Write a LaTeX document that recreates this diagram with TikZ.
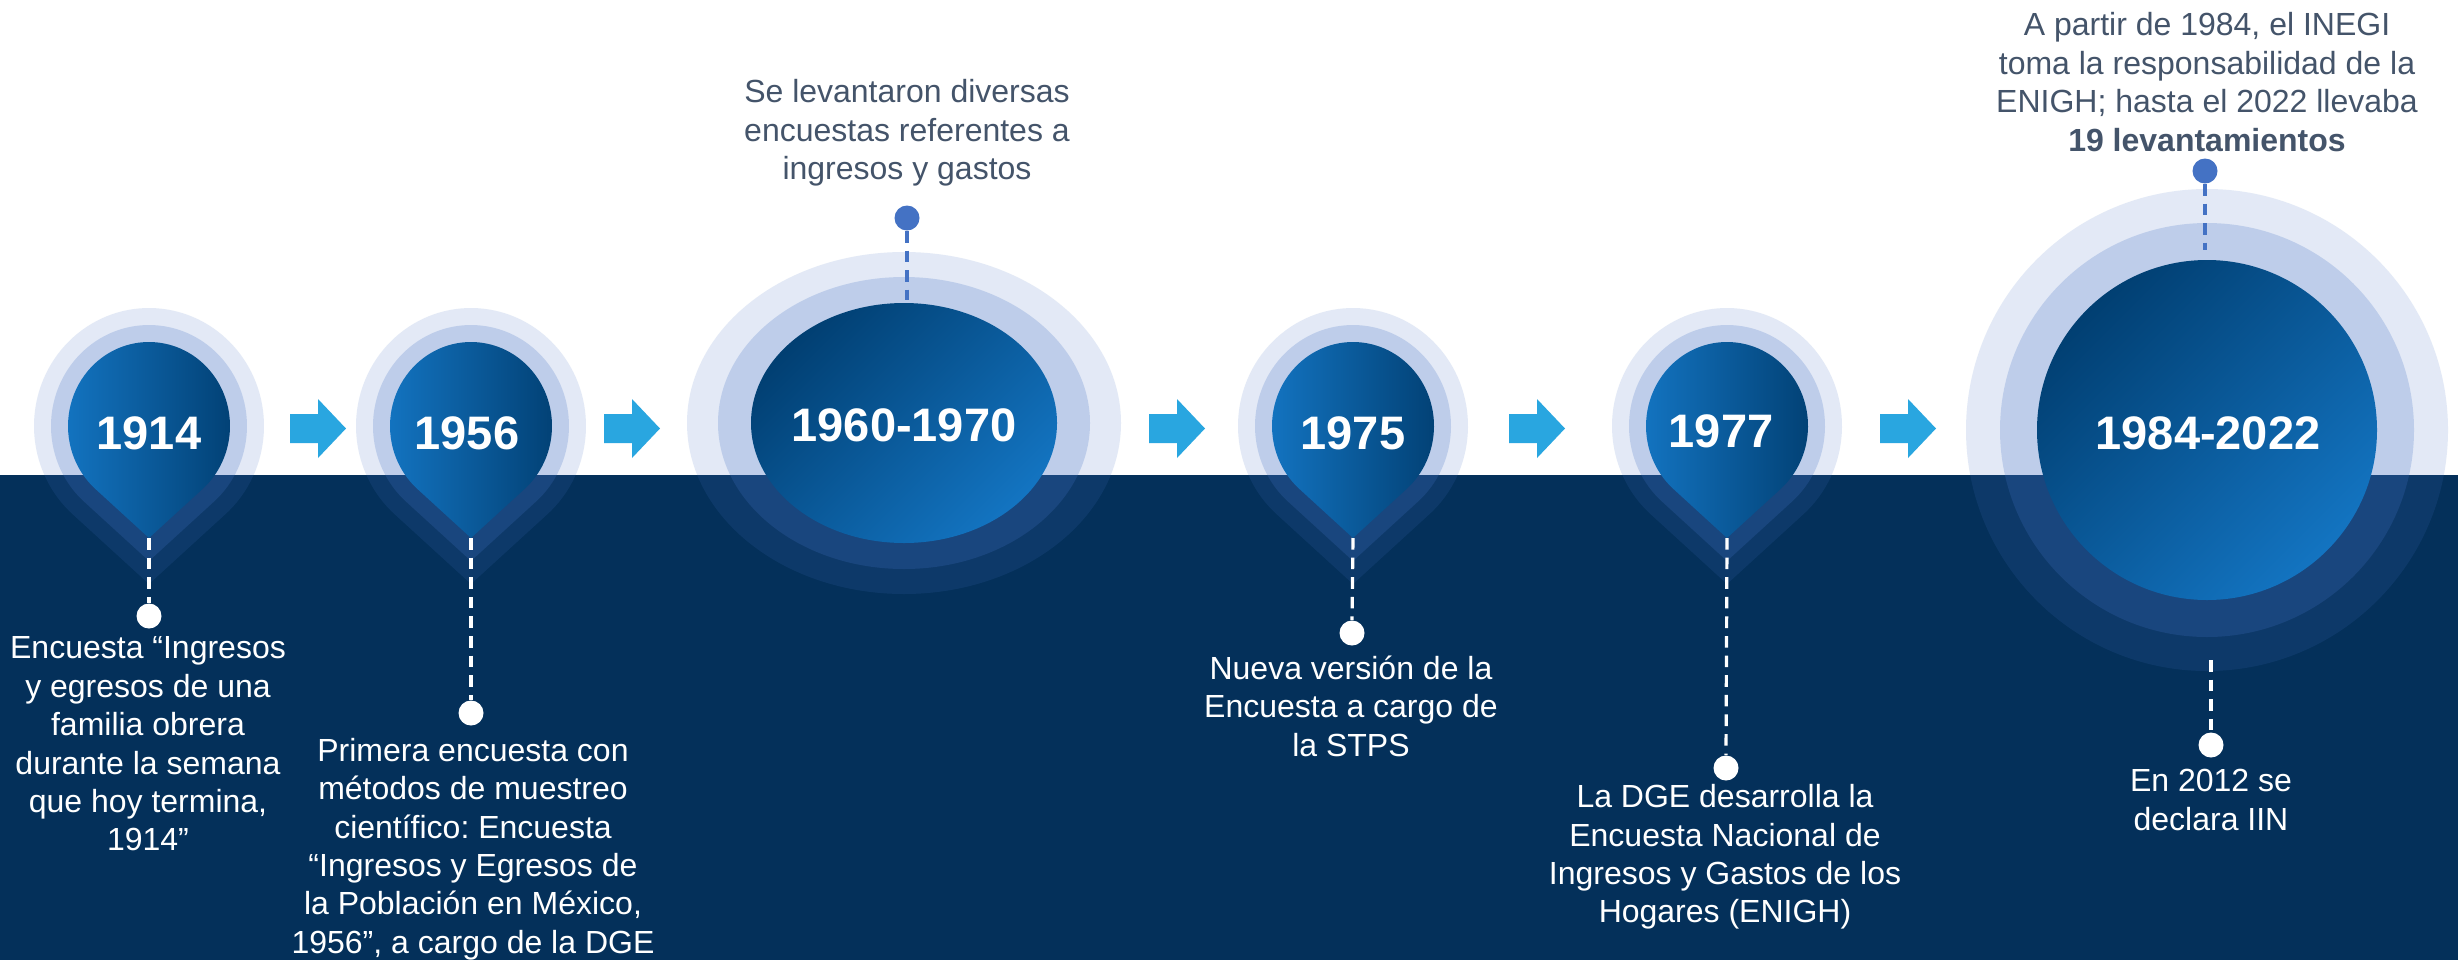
\documentclass[tikz,border=0pt]{standalone}
\usepackage{fontspec}
\setmainfont{Liberation Sans}
\usetikzlibrary{calc}
\frenchspacing
\definecolor{navyband}{HTML}{04305A}
\definecolor{ringblue}{HTML}{4472C4}
\definecolor{arrowblue}{HTML}{29A6E0}
\definecolor{slate}{HTML}{44546A}
\definecolor{pinlight}{HTML}{1374C1}
\definecolor{pindark}{HTML}{013F72}
\newcommand\tlpin[2]{%
  \fill[ringouter] ({#1+115*cos(48.4)},{426+118*sin(48.4)}) arc[start angle=48.4,end angle=-228.4,x radius=115,y radius=118] -- (#1,584) -- cycle;
  \fill[ringmiddle] ({#1+98*cos(48.4)},{426+101*sin(48.4)}) arc[start angle=48.4,end angle=-228.4,x radius=98,y radius=101] -- (#1,561) -- cycle;
  \shade[left color=pinlight, right color=pindark] ({#1+81*cos(48.4)},{426+84*sin(48.4)}) arc[start angle=48.4,end angle=-228.4,x radius=81,y radius=84] -- (#1,538) -- cycle;
  \coordinate (#2tip) at (#1,538);
}
\newcommand\tlarrow[1]{%
  \fill[arrowblue] (#1,414) -- ++(28,0) -- ++(0,-15) -- ++(28,29.5) -- ++(-28,29.5) -- ++(0,-15) -- ++(-28,0) -- cycle;
}
\begin{document}
\begin{tikzpicture}[x=0.5pt,y=-0.5pt,
  ringouter/.style={ringblue, fill opacity=.15},
  ringmiddle/.style={ringblue, fill opacity=.23},
  wdot/.style={circle, fill=white, inner sep=0pt, minimum size=12.5pt},
  bdot/.style={circle, fill=ringblue, inner sep=0pt, minimum size=12.5pt},
  wdash/.style={white, line width=1.6pt, dash pattern=on 5.8pt off 4pt},
  bdash/.style={ringblue, line width=1.6pt, dash pattern=on 5.8pt off 4pt},
  body/.style={align=center, inner sep=0pt, font=\fontsize{16}{19.2}\selectfont},
  yearlbl/.style={text=white, inner sep=0pt, font=\fontsize{23.5}{28}\selectfont\bfseries}]
\fill[white] (0,0) rectangle (2458,960);
\useasboundingbox (0,0) rectangle (2458,960);
\fill[navyband] (0,475) rectangle (2458,960);

% pins
\tlpin{149}{p1914}
\tlpin{471}{p1956}
\tlpin{1353}{p1975}
\tlpin{1727}{p1977}

% big ellipse 1960-1970
\fill[ringouter] (904,423) ellipse[x radius=217, y radius=171];
\fill[ringmiddle] (904,423) ellipse[x radius=186, y radius=146];
\shade[top color=pindark, bottom color=pinlight, shading angle=45] (904,423) ellipse[x radius=153, y radius=120];

% big circle 1984-2022
\fill[ringouter] (2207,430) circle[radius=241];
\fill[ringmiddle] (2207,430) circle[radius=207];
\shade[top color=pindark, bottom color=pinlight, shading angle=45] (2207,430) circle[radius=170];

% arrows
\tlarrow{290}
\tlarrow{604}
\tlarrow{1149}
\tlarrow{1509}
\tlarrow{1880}

% year labels
\node[yearlbl] (y1914) at (149,433) {1914};
\node[yearlbl] (y1956) at (467,433) {1956};
\node[yearlbl] (y1960) at (904,425) {1960-1970};
\node[yearlbl] (y1975) at (1353,433) {1975};
\node[yearlbl] (y1977) at (1721,431) {1977};
\node[yearlbl] (y1984) at (2208,433) {1984-2022};

% dots
\node[wdot] (d1914) at (149,616) {};
\node[wdot] (d1956) at (471,713) {};
\node[wdot] (d1975) at (1352,633) {};
\node[wdot] (d1977) at (1726,768) {};
\node[wdot] (d1984) at (2211,745) {};
\coordinate (c1984) at (2211,660);
\node[bdot] (t1960) at (907,218) {};
\coordinate (c1960) at (907,300);
\node[bdot] (t1984) at (2205,171) {};
\coordinate (c1984t) at (2205,250);

% dashed connectors
\draw[wdash] (p1914tip) -- (d1914.north);
\draw[wdash] (p1956tip) -- (d1956.north);
\draw[wdash] (p1975tip) -- (d1975.north);
\draw[wdash] (p1977tip) -- (d1977.north);
\draw[wdash] (c1984) -- (d1984.north);
\draw[bdash] (t1960.south) -- (c1960);
\draw[bdash] (t1984.south) -- (c1984t);

% texts
\node[body, text=white] (x1914) at (148,744) {Encuesta “Ingresos\\y egresos de una\\familia obrera\\durante la semana\\que hoy termina,\\1914”};
\node[body, text=white] (x1956) at (473,849) {Primera encuesta con\\métodos de muestreo\\científico: Encuesta\\“Ingresos y Egresos de\\la Población en México,\\1956”, a cargo de la DGE};
\node[body, text=white] (x1975) at (1351,706) {Nueva versión de la\\Encuesta a cargo de\\la STPS};
\node[body, text=white] (x1977) at (1725,857) {La DGE desarrolla la\\Encuesta Nacional de\\Ingresos y Gastos de los\\Hogares (ENIGH)};
\node[body, text=white] (x1984) at (2211,800) {En 2012 se\\declara IIN};
\node[body, text=slate] (x1960) at (907,133) {Se levantaron diversas\\encuestas referentes a\\ingresos y gastos};
\node[body, text=slate] (x1984t) at (2207,82) {A partir de 1984, el INEGI\\toma la responsabilidad de la\\ENIGH; hasta el 2022 llevaba\\\textbf{19 levantamientos}};
\end{tikzpicture}
\end{document}
